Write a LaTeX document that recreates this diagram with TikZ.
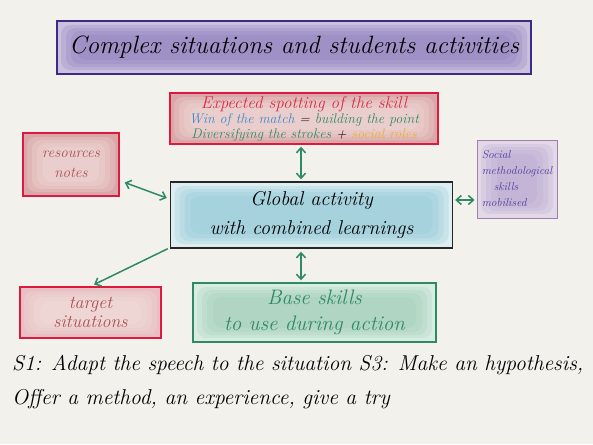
\documentclass[tikz,border=0pt]{standalone}
\usetikzlibrary{arrows.meta}

\definecolor{paper}{HTML}{F2F1EC}
\definecolor{titleline}{HTML}{3B2C85}
\definecolor{titlefill}{HTML}{CBC1DF}
\definecolor{titlewash}{HTML}{8E7CBD}
\definecolor{redline}{HTML}{DC1A40}
\definecolor{pinkfill}{HTML}{D9A7A7}
\definecolor{pinkwash}{HTML}{F3E2DF}
\definecolor{rosefill}{HTML}{E8BFC2}
\definecolor{socialline}{HTML}{A07FAE}
\definecolor{socialfill}{HTML}{E2D9E8}
\definecolor{socialwash}{HTML}{B9A7D2}
\definecolor{bluefill}{HTML}{DCEEF1}
\definecolor{bluewash}{HTML}{8FC8D8}
\definecolor{greenline}{HTML}{2E8A62}
\definecolor{greenfill}{HTML}{D9ECE3}
\definecolor{greenwash}{HTML}{9FCDB7}
\definecolor{linkgreen}{HTML}{2E8A62}
\definecolor{expred}{HTML}{D42D4A}
\definecolor{winblue}{HTML}{3F87C9}
\definecolor{rolesyellow}{HTML}{E6B23A}
\definecolor{brownred}{HTML}{A9504F}
\definecolor{socialtext}{HTML}{4B3E9A}

\begin{document}
\begin{tikzpicture}[x=1pt, y=-1pt, >={Straight Barb[length=5pt,width=9pt]},
  box/.style={draw, line width=1.4pt, inner sep=0pt, align=center, font=\itshape},
  wash/.style={path picture={
    \foreach \dx/\dy in {4/4, 9/7, 14/10, 20/14}
      \fill[#1, opacity=.25, rounded corners=9pt]
        ([shift={(\dx pt,-\dy pt)}]path picture bounding box.north west) rectangle
        ([shift={(-\dx pt,\dy pt)}]path picture bounding box.south east);}},
  link/.style={draw=linkgreen, line width=1.5pt}]
  \fill[paper] (0,0) rectangle (593,444);
  \useasboundingbox (0,0) rectangle (593,444);

  % boxes
  \node[box, draw=titleline, fill=titlefill, wash=titlewash, minimum width=474pt, minimum height=53pt,
        font=\itshape\fontsize{25}{28}\selectfont] (title) at (294,47.5)
        {Complex situations and students activities};
  \node[box, draw=redline, fill=pinkfill, wash=pinkwash, minimum width=268pt, minimum height=51pt,
        font=\itshape\fontsize{14}{15}\selectfont] (expected) at (304,118.5)
        {{\color{expred}\fontsize{17}{15}\selectfont Expected spotting of the skill}\\
         {\color{winblue}Win of the match} = {\color{linkgreen}building the point}\\
         {\color{linkgreen}Diversifying the strokes} + {\color{rolesyellow}social roles}};
  \node[box, draw=redline, fill=pinkfill, wash=pinkwash, minimum width=96pt, minimum height=63pt,
        text=brownred, font=\itshape\fontsize{15}{20}\selectfont] (resources) at (71,164.5)
        {resources\\notes};
  \node[box, draw=socialline, line width=1pt, fill=socialfill, wash=socialwash, minimum width=80pt,
        minimum height=78pt, text=socialtext, align=left,
        font=\itshape\fontsize{11.5}{16}\selectfont] (social) at (517,179)
        {Social\\methodological\\\hspace{12pt}skills\\mobilised};
  \node[box, draw=black!85, fill=bluefill, wash=bluewash, minimum width=282pt, minimum height=66pt,
        font=\itshape\fontsize{20}{29}\selectfont] (global) at (311.5,215)
        {Global activity\\with combined learnings};
  \node[box, draw=redline, fill=rosefill, wash=pinkwash, minimum width=141pt, minimum height=51pt,
        text=brownred, font=\itshape\fontsize{18}{19}\selectfont] (target) at (90.5,312.5)
        {target\\situations};
  \node[box, draw=greenline, fill=greenfill, wash=greenwash, minimum width=243pt, minimum height=59pt,
        text=greenline, font=\itshape\fontsize{21}{26}\selectfont] (base) at (314.5,312.5)
        {Base skills\\to use during action};

  % links
  \draw[link, <->, shorten <=2pt, shorten >=2pt]
    ([xshift=-3pt]expected.south) -- ([xshift=-3pt]expected.south |- global.north);
  \draw[link, <->, shorten <=3pt, shorten >=2pt]
    ([xshift=-10.5pt]global.south) -- ([xshift=-10.5pt]global.south |- base.north);
  \draw[link, <->, shorten <=2pt, shorten >=2pt]
    ([yshift=15pt]global.east) -- ([yshift=15pt]social.west |- global.east);
  \draw[link, <->]
    ([shift={(5pt,-18pt)}]resources.east) -- ([shift={(-3pt,17pt)}]global.west);
  \draw[link, ->, shorten >=4pt] ([xshift=-2pt]global.south west) -- (target.north);

  % notes under the diagram
  \node[anchor=north west, align=left, inner sep=0pt,
        font=\itshape\fontsize{21.5}{34}\selectfont] (notes) at (12,355)
        {S1: Adapt the speech to the situation S3: Make an hypothesis,\\
         Offer a method, an experience, give a try};
\end{tikzpicture}
\end{document}
